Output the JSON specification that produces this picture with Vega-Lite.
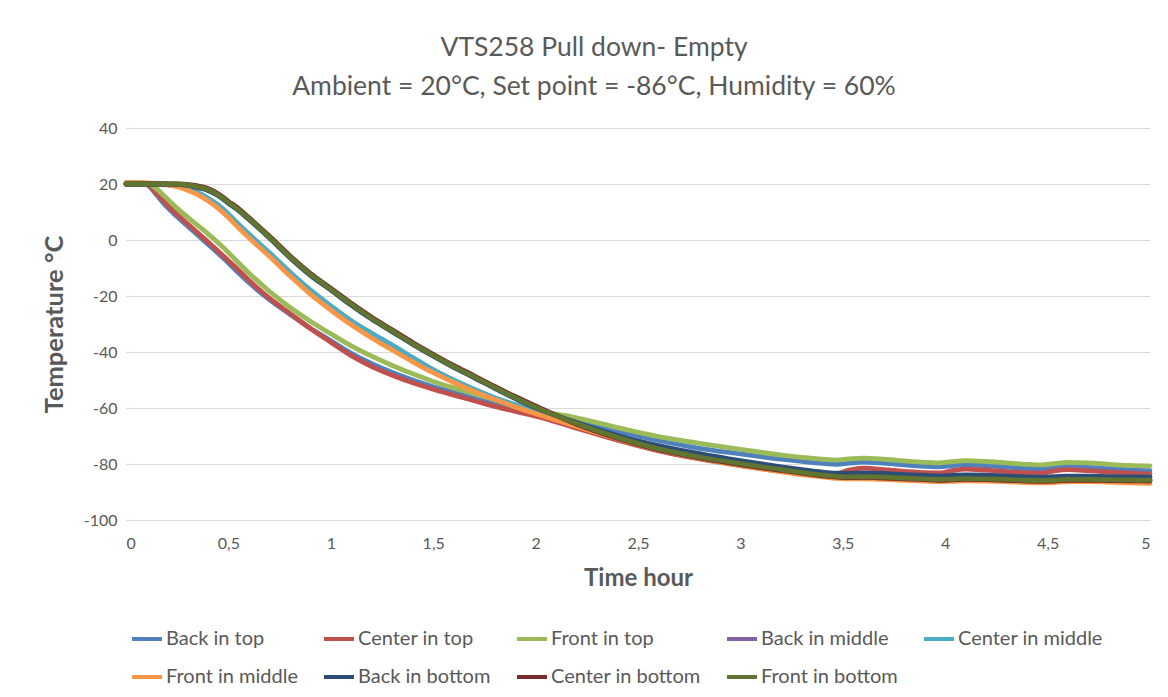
{
  "$schema": "https://vega.github.io/schema/vega-lite/v6.json",
  "width": 1024,
  "height": 392,
  "autosize": {"type": "none"},
  "padding": {"left": 126, "top": 128, "right": 18, "bottom": 177},
  "background": "white",
  "config": {"view": {"stroke": null}, "font": "Lato"},
  "title": {
    "text": ["VTS258 Pull down- Empty", "Ambient = 20°C, Set point = -86°C, Humidity = 60%"],
    "fontSize": 26.5, "fontWeight": "normal", "color": "#595959", "lineHeight": 39,
    "offset": 20, "dx": -44, "anchor": "middle", "font": "Lato"
  },
  "data": {"values": [
    {"h":0,"Back in top":20,"Center in top":20,"Front in top":20.5,"Back in middle":19.8,"Center in middle":20,"Front in middle":20.5,"Back in bottom":20,"Center in bottom":20,"Front in bottom":20},
    {"h":0.05,"Back in top":20,"Center in top":20,"Front in top":20.5,"Back in middle":19.8,"Center in middle":20,"Front in middle":20.5,"Back in bottom":20,"Center in bottom":20,"Front in bottom":20},
    {"h":0.1,"Back in top":19.8,"Center in top":19.8,"Front in top":20.3,"Back in middle":19.8,"Center in middle":20,"Front in middle":20.4,"Back in bottom":20,"Center in bottom":20,"Front in bottom":20},
    {"h":0.15,"Back in top":16,"Center in top":16.6,"Front in top":18.2,"Back in middle":19.8,"Center in middle":20,"Front in middle":20.2,"Back in bottom":20,"Center in bottom":20,"Front in bottom":20},
    {"h":0.2,"Back in top":11.8,"Center in top":12.6,"Front in top":14.8,"Back in middle":19.7,"Center in middle":19.9,"Front in middle":19.8,"Back in bottom":20,"Center in bottom":20,"Front in bottom":20},
    {"h":0.25,"Back in top":8.3,"Center in top":9.1,"Front in top":11.3,"Back in middle":19.2,"Center in middle":19.4,"Front in middle":19,"Back in bottom":19.9,"Center in bottom":20,"Front in bottom":20},
    {"h":0.3,"Back in top":5,"Center in top":5.8,"Front in top":8.2,"Back in middle":18.1,"Center in middle":18.3,"Front in middle":17.8,"Back in bottom":19.5,"Center in bottom":19.9,"Front in bottom":19.7},
    {"h":0.35,"Back in top":1.8,"Center in top":2.6,"Front in top":5.2,"Back in middle":16.8,"Center in middle":17,"Front in middle":16.2,"Back in bottom":18.7,"Center in bottom":19.3,"Front in bottom":19},
    {"h":0.4,"Back in top":-1.5,"Center in top":-0.7,"Front in top":2.2,"Back in middle":14.8,"Center in middle":15,"Front in middle":14,"Back in bottom":17.7,"Center in bottom":18.4,"Front in bottom":18},
    {"h":0.45,"Back in top":-4.8,"Center in top":-4,"Front in top":-1,"Back in middle":12.3,"Center in middle":12.5,"Front in middle":11.3,"Back in bottom":15.8,"Center in bottom":16.5,"Front in bottom":16.1},
    {"h":0.5,"Back in top":-8.2,"Center in top":-7.4,"Front in top":-4.5,"Back in middle":9.1,"Center in middle":9.3,"Front in middle":8,"Back in bottom":13.1,"Center in bottom":13.8,"Front in bottom":13.4},
    {"h":0.55,"Back in top":-11.8,"Center in top":-10.8,"Front in top":-8.2,"Back in middle":5.4,"Center in middle":5.6,"Front in middle":4.3,"Back in bottom":10.5,"Center in bottom":11.2,"Front in bottom":10.8},
    {"h":0.6,"Back in top":-15.2,"Center in top":-14.4,"Front in top":-11.8,"Back in middle":1.9,"Center in middle":2.1,"Front in middle":0.8,"Back in bottom":7.3,"Center in bottom":8,"Front in bottom":7.6},
    {"h":0.7,"Back in top":-21.3,"Center in top":-20.8,"Front in top":-18.3,"Back in middle":-4.7,"Center in middle":-4.5,"Front in middle":-5.8,"Back in bottom":0.7,"Center in bottom":1.4,"Front in bottom":1},
    {"h":0.8,"Back in top":-26.5,"Center in top":-26.2,"Front in top":-24,"Back in middle":-11.6,"Center in middle":-11.4,"Front in middle":-12.8,"Back in bottom":-6.3,"Center in bottom":-5.6,"Front in bottom":-6},
    {"h":0.9,"Back in top":-31.5,"Center in top":-31.6,"Front in top":-29,"Back in middle":-18,"Center in middle":-17.8,"Front in middle":-19.3,"Back in bottom":-12.6,"Center in bottom":-11.9,"Front in bottom":-12.3},
    {"h":1,"Back in top":-36,"Center in top":-36.5,"Front in top":-33.5,"Back in middle":-23.7,"Center in middle":-23.5,"Front in middle":-25,"Back in bottom":-17.9,"Center in bottom":-17.2,"Front in bottom":-17.6},
    {"h":1.1,"Back in top":-40.5,"Center in top":-41.3,"Front in top":-37.8,"Back in middle":-29,"Center in middle":-28.8,"Front in middle":-30.3,"Back in bottom":-23.3,"Center in bottom":-22.6,"Front in bottom":-23},
    {"h":1.2,"Back in top":-44.2,"Center in top":-45.2,"Front in top":-41.5,"Back in middle":-33.5,"Center in middle":-33.3,"Front in middle":-35,"Back in bottom":-28.3,"Center in bottom":-27.6,"Front in bottom":-28},
    {"h":1.3,"Back in top":-47.3,"Center in top":-48.3,"Front in top":-44.8,"Back in middle":-37.7,"Center in middle":-37.5,"Front in middle":-39.3,"Back in bottom":-32.8,"Center in bottom":-32.1,"Front in bottom":-32.5},
    {"h":1.4,"Back in top":-50,"Center in top":-51,"Front in top":-47.8,"Back in middle":-42.2,"Center in middle":-42,"Front in middle":-43.5,"Back in bottom":-37.3,"Center in bottom":-36.6,"Front in bottom":-37},
    {"h":1.5,"Back in top":-52.4,"Center in top":-53.3,"Front in top":-50.5,"Back in middle":-46.5,"Center in middle":-46.3,"Front in middle":-47.4,"Back in bottom":-41.5,"Center in bottom":-40.8,"Front in bottom":-41.2},
    {"h":1.6,"Back in top":-54.5,"Center in top":-55.4,"Front in top":-52.8,"Back in middle":-50.2,"Center in middle":-50,"Front in middle":-50.9,"Back in bottom":-45.5,"Center in bottom":-44.8,"Front in bottom":-45.2},
    {"h":1.7,"Back in top":-56.6,"Center in top":-57.4,"Front in top":-54.9,"Back in middle":-53.5,"Center in middle":-53.3,"Front in middle":-54.1,"Back in bottom":-49.2,"Center in bottom":-48.5,"Front in bottom":-48.9},
    {"h":1.8,"Back in top":-58.5,"Center in top":-59.4,"Front in top":-57,"Back in middle":-56.5,"Center in middle":-56.3,"Front in middle":-57,"Back in bottom":-53,"Center in bottom":-52.3,"Front in bottom":-52.7},
    {"h":1.9,"Back in top":-60.2,"Center in top":-61.2,"Front in top":-58.9,"Back in middle":-59,"Center in middle":-58.8,"Front in middle":-59.6,"Back in bottom":-56.6,"Center in bottom":-55.9,"Front in bottom":-56.3},
    {"h":2,"Back in top":-61.8,"Center in top":-62.9,"Front in top":-60.8,"Back in middle":-61.2,"Center in middle":-61,"Front in middle":-62,"Back in bottom":-59.9,"Center in bottom":-59.3,"Front in bottom":-59.7},
    {"h":2.2,"Back in top":-64.7,"Center in top":-67.2,"Front in top":-63.5,"Back in middle":-65.5,"Center in middle":-65.3,"Front in middle":-66.6,"Back in bottom":-65.2,"Center in bottom":-65.8,"Front in bottom":-65.5},
    {"h":2.4,"Back in top":-68.3,"Center in top":-71.5,"Front in top":-67,"Back in middle":-70.2,"Center in middle":-70,"Front in middle":-71,"Back in bottom":-69.8,"Center in bottom":-70.8,"Front in bottom":-70.5},
    {"h":2.6,"Back in top":-71.6,"Center in top":-75.3,"Front in top":-70.2,"Back in middle":-74.2,"Center in middle":-74,"Front in middle":-75,"Back in bottom":-73.4,"Center in bottom":-74.9,"Front in bottom":-74.6},
    {"h":2.8,"Back in top":-74.4,"Center in top":-78.2,"Front in top":-72.6,"Back in middle":-77.4,"Center in middle":-77.2,"Front in middle":-78,"Back in bottom":-76.3,"Center in bottom":-77.8,"Front in bottom":-77.5},
    {"h":3,"Back in top":-76.4,"Center in top":-80.6,"Front in top":-74.8,"Back in middle":-80,"Center in middle":-79.8,"Front in middle":-80.6,"Back in bottom":-78.8,"Center in bottom":-80.2,"Front in bottom":-79.9},
    {"h":3.2,"Back in top":-78.3,"Center in top":-82.6,"Front in top":-76.8,"Back in middle":-82.1,"Center in middle":-81.9,"Front in middle":-82.8,"Back in bottom":-81,"Center in bottom":-82.3,"Front in bottom":-82},
    {"h":3.3,"Back in top":-79.1,"Center in top":-83.4,"Front in top":-77.6,"Back in middle":-83.1,"Center in middle":-82.9,"Front in middle":-83.8,"Back in bottom":-82,"Center in bottom":-83.3,"Front in bottom":-83},
    {"h":3.4,"Back in top":-79.8,"Center in top":-83.7,"Front in top":-78.3,"Back in middle":-84,"Center in middle":-83.8,"Front in middle":-84.6,"Back in bottom":-82.9,"Center in bottom":-84.2,"Front in bottom":-83.9},
    {"h":3.47,"Back in top":-80.1,"Center in top":-83.4,"Front in top":-78.6,"Back in middle":-84.4,"Center in middle":-84.2,"Front in middle":-85.1,"Back in bottom":-83.3,"Center in bottom":-84.7,"Front in bottom":-84.4},
    {"h":3.53,"Back in top":-79.7,"Center in top":-82.2,"Front in top":-78.2,"Back in middle":-84.6,"Center in middle":-84.4,"Front in middle":-85.3,"Back in bottom":-83.4,"Center in bottom":-84.9,"Front in bottom":-84.6},
    {"h":3.6,"Back in top":-79.3,"Center in top":-81.5,"Front in top":-77.9,"Back in middle":-84.5,"Center in middle":-84.3,"Front in middle":-85.3,"Back in bottom":-83.2,"Center in bottom":-84.8,"Front in bottom":-84.5},
    {"h":3.7,"Back in top":-79.7,"Center in top":-82,"Front in top":-78.3,"Back in middle":-84.6,"Center in middle":-84.4,"Front in middle":-85.5,"Back in bottom":-83.4,"Center in bottom":-85,"Front in bottom":-84.7},
    {"h":3.8,"Back in top":-80.3,"Center in top":-82.6,"Front in top":-78.9,"Back in middle":-84.9,"Center in middle":-84.7,"Front in middle":-85.8,"Back in bottom":-83.8,"Center in bottom":-85.3,"Front in bottom":-85},
    {"h":3.9,"Back in top":-80.8,"Center in top":-83.1,"Front in top":-79.4,"Back in middle":-85.2,"Center in middle":-85,"Front in middle":-86.1,"Back in bottom":-84.1,"Center in bottom":-85.6,"Front in bottom":-85.3},
    {"h":3.97,"Back in top":-81,"Center in top":-83.2,"Front in top":-79.6,"Back in middle":-85.4,"Center in middle":-85.2,"Front in middle":-86.3,"Back in bottom":-84.3,"Center in bottom":-85.8,"Front in bottom":-85.5},
    {"h":4.03,"Back in top":-80.6,"Center in top":-82.4,"Front in top":-79.2,"Back in middle":-85.3,"Center in middle":-85.1,"Front in middle":-86.2,"Back in bottom":-84.1,"Center in bottom":-85.7,"Front in bottom":-85.4},
    {"h":4.1,"Back in top":-80.2,"Center in top":-81.8,"Front in top":-78.8,"Back in middle":-85.1,"Center in middle":-84.9,"Front in middle":-86,"Back in bottom":-83.9,"Center in bottom":-85.5,"Front in bottom":-85.2},
    {"h":4.2,"Back in top":-80.6,"Center in top":-82.2,"Front in top":-79.1,"Back in middle":-85.2,"Center in middle":-85,"Front in middle":-86.1,"Back in bottom":-84,"Center in bottom":-85.6,"Front in bottom":-85.3},
    {"h":4.3,"Back in top":-81.1,"Center in top":-82.7,"Front in top":-79.6,"Back in middle":-85.4,"Center in middle":-85.2,"Front in middle":-86.3,"Back in bottom":-84.3,"Center in bottom":-85.8,"Front in bottom":-85.5},
    {"h":4.4,"Back in top":-81.6,"Center in top":-83.2,"Front in top":-80.1,"Back in middle":-85.7,"Center in middle":-85.5,"Front in middle":-86.6,"Back in bottom":-84.6,"Center in bottom":-86.1,"Front in bottom":-85.8},
    {"h":4.47,"Back in top":-81.8,"Center in top":-83.3,"Front in top":-80.3,"Back in middle":-85.8,"Center in middle":-85.6,"Front in middle":-86.7,"Back in bottom":-84.7,"Center in bottom":-86.2,"Front in bottom":-85.9},
    {"h":4.53,"Back in top":-81.4,"Center in top":-82.5,"Front in top":-79.9,"Back in middle":-85.7,"Center in middle":-85.5,"Front in middle":-86.6,"Back in bottom":-84.5,"Center in bottom":-86.1,"Front in bottom":-85.8},
    {"h":4.6,"Back in top":-80.9,"Center in top":-82,"Front in top":-79.4,"Back in middle":-85.4,"Center in middle":-85.2,"Front in middle":-86.3,"Back in bottom":-84.3,"Center in bottom":-85.8,"Front in bottom":-85.5},
    {"h":4.7,"Back in top":-81.2,"Center in top":-82.4,"Front in top":-79.6,"Back in middle":-85.4,"Center in middle":-85.2,"Front in middle":-86.3,"Back in bottom":-84.3,"Center in bottom":-85.8,"Front in bottom":-85.5},
    {"h":4.8,"Back in top":-81.7,"Center in top":-82.9,"Front in top":-80.1,"Back in middle":-85.5,"Center in middle":-85.3,"Front in middle":-86.5,"Back in bottom":-84.5,"Center in bottom":-85.9,"Front in bottom":-85.6},
    {"h":4.9,"Back in top":-82.1,"Center in top":-83.3,"Front in top":-80.5,"Back in middle":-85.6,"Center in middle":-85.4,"Front in middle":-86.7,"Back in bottom":-84.6,"Center in bottom":-86,"Front in bottom":-85.7},
    {"h":5,"Back in top":-82.4,"Center in top":-83.6,"Front in top":-80.7,"Back in middle":-85.7,"Center in middle":-85.5,"Front in middle":-86.9,"Back in bottom":-84.7,"Center in bottom":-86.1,"Front in bottom":-85.8}
  ]},
  "transform": [
    {"fold": ["Back in top","Center in top","Front in top","Back in middle","Center in middle","Front in middle","Back in bottom","Center in bottom","Front in bottom"], "as": ["series","temp"]}
  ],
  "mark": {"type": "line", "interpolate": "monotone", "strokeWidth": 4.8, "strokeCap": "round", "strokeJoin": "round"},
  "encoding": {
    "x": {
      "field": "h", "type": "quantitative",
      "scale": {"domain": [0, 5], "nice": false, "zero": false},
      "axis": {
        "title": "Time hour", "values": [0,0.5,1,1.5,2,2.5,3,3.5,4,4.5,5],
        "format": "~g",
        "labelExpr": "replace(datum.label, '.', ',')",
        "grid": false, "domain": true, "domainColor": "#d9d9d9", "domainWidth": 1, "ticks": false,
        "labelFontSize": 16, "labelColor": "#595959", "labelPadding": 15, "labelFont": "Lato",
        "titleFontSize": 24, "titleFontWeight": "bold", "titleColor": "#595959", "titlePadding": 15, "titleFont": "Lato"
      }
    },
    "y": {
      "field": "temp", "type": "quantitative",
      "scale": {"domain": [-100, 40], "nice": false, "zero": false},
      "axis": {
        "title": "Temperature °C", "values": [-100,-80,-60,-40,-20,0,20,40],
        "labelExpr": "replace(datum.label, '−', '-')",
        "grid": true, "gridColor": "#d9d9d9", "gridWidth": 1, "domain": false, "ticks": false,
        "labelFontSize": 16, "labelColor": "#595959", "labelPadding": 9, "labelFont": "Lato",
        "titleFontSize": 25.5, "titleFontWeight": "bold", "titleColor": "#595959", "titlePadding": 16, "titleFont": "Lato"
      }
    },
    "color": {
      "field": "series", "type": "nominal",
      "scale": {
        "domain": ["Back in top","Center in top","Front in top","Back in middle","Center in middle","Front in middle","Back in bottom","Center in bottom","Front in bottom"],
        "range": ["#4F81BD","#C0504D","#9BBB59","#8064A2","#4BACC6","#F79646","#2C4D75","#772C2A","#5F7530"]
      },
      "legend": {
        "title": null, "orient": "none", "legendX": 4, "legendY": 494,
        "direction": "horizontal", "columns": 5,
        "symbolType": "stroke", "symbolSize": 900, "symbolStrokeWidth": 4,
        "labelFontSize": 20, "labelColor": "#595959", "labelFont": "Lato", "labelOffset": 2,
        "rowPadding": 11, "columnPadding": 18, "labelLimit": 300
      }
    }
  }
}
